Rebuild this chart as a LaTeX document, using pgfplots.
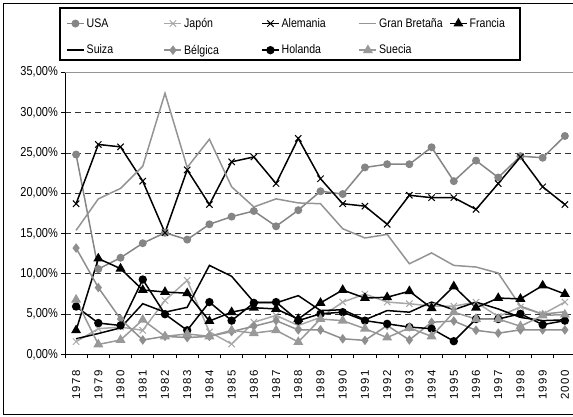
\documentclass[border=0pt]{standalone}
\usepackage{pgfplots}
\pgfplotsset{compat=1.18}
\usepackage{pgfplotstable}
\usepackage{fontspec}
\setmainfont{Liberation Sans}[FakeStretch=0.85]
\newfontfamily\yearfont{Liberation Sans}[LetterSpace=14]
\definecolor{cUSA}{gray}{0.52}
\definecolor{cJAP}{gray}{0.66}
\definecolor{cGB}{gray}{0.58}
\definecolor{cBEL}{gray}{0.56}
\definecolor{cSUE}{gray}{0.60}
\pgfplotstableread{
x   USA   JAP  ALE   GB    FRA   SUI   BEL   HOL   SUE
0   24.8  1.6  18.7  15.4  3.0   1.95  13.2  5.95  6.8
1   10.6  3.2  26.05 19.3  11.9  2.6   8.3   3.9   1.25
2   12.0  3.4  25.75 20.6  10.65 3.3   4.4   3.6   1.8
3   13.8  3.0  21.5  23.35 8.0   6.3   1.8   9.3   4.3
4   15.1  6.7  15.1  32.4  7.75  5.25  2.25  5.0   2.25
5   14.25 9.2  22.9  23.2  7.6   5.85  2.1   3.0   2.55
6   16.15 2.8  18.6  26.7  4.15  11.05 2.25  6.5   2.25
7   17.1  1.3  23.9  20.8  5.25  9.7   2.85  4.2   3.0
8   17.8  4.0  24.5  18.3  5.8   6.5   3.5   6.4   2.65
9   15.9  4.85 21.2  19.3  5.65  6.4   4.2   6.5   3.0
10  17.9  3.6  26.8  18.8  4.4   7.3   3.05  4.2   1.55
11  20.25 4.6  21.8  18.7  6.4   5.45  3.05  5.05  4.4
12  19.9  6.5  18.7  15.6  8.0   5.55  1.95  5.25  4.2
13  23.2  7.5  18.4  14.45 7.0   4.3   1.75  4.2   3.2
14  23.6  6.5  16.15 14.9  7.1   5.45  3.6   3.8   2.1
15  23.6  6.3  19.75 11.25 7.85  5.25  1.8   3.4   3.3
16  25.7  6.0  19.45 12.6  5.75  6.5   4.0   3.2   2.25
17  21.5  6.0  19.45 11.05 8.45  5.55  4.15  1.65  5.25
18  24.05 6.5  18.0  10.85 5.8   6.5   3.0   4.4   4.4
19  21.95 4.7  21.2  10.1  7.0   5.65  2.65  4.4   4.4
20  24.6  5.9  24.5  6.0   6.9   4.6   3.05  5.05  3.5
21  24.4  5.0  20.8  5.0   8.55  4.2   3.05  3.7   4.85
22  27.1  6.5  18.6  5.3   7.5   4.3   3.05  4.2   4.95
}\data
\newcommand\lt[1]{\makebox[75bp][l]{#1}}
\newcommand\ls[1]{\makebox[68bp][l]{#1}}
\begin{document}
\begin{tikzpicture}
\useasboundingbox (0,0) rectangle (573bp,417bp);
\draw[line width=0.8bp] (3bp,3bp) rectangle (590bp,414bp);
\begin{axis}[
  at={(65bp,62.5bp)}, anchor=south west,
  scale only axis, width=511bp, height=282.2bp,
  xmin=-0.5, xmax=22.5, ymin=0, ymax=35,
  axis x line*=bottom, axis y line*=left,
  axis line style={black, line width=0.8bp},
  tick align=outside, major tick length=4bp,
  tick style={black, line width=0.8bp},
  xtick={-0.5,0.5,...,22.5}, xticklabels={},
  extra x ticks={0,...,22},
  extra x tick labels={1978,1979,1980,1981,1982,1983,1984,1985,1986,1987,1988,1989,1990,1991,1992,1993,1994,1995,1996,1997,1998,1999,2000},
  extra x tick style={major tick length=0pt, grid=none,
     tick label style={rotate=90, anchor=east, font=\fontsize{11.5}{12}\selectfont\yearfont, inner sep=0pt, xshift=-15bp}},
  ytick={0,5,...,30},
  yticklabels={{0,00\%},{5,00\%},{10,00\%},{15,00\%},{20,00\%},{25,00\%},{30,00\%}},
  extra y ticks={35}, extra y tick labels={35{,}00\%},
  extra y tick style={major grid style={solid, cGB, line width=0.9bp}},
  ymajorgrids,
  major grid style={black!80, dash pattern=on 6bp off 4bp, line width=0.8bp},
  yticklabel style={font=\fontsize{13}{14}\selectfont, inner sep=0pt, xshift=-3bp},
  legend columns=5,
  legend style={at={(-0.0098,1.2172)}, anchor=north west, draw=none, fill=none,
     font=\fontsize{12.5}{14}\selectfont, row sep=12bp, inner xsep=6bp, inner ysep=5bp,
     cells={anchor=west}},
  every axis plot/.append style={line width=1.5bp},
]
\addplot[cUSA, mark=*, mark size=3.2bp, mark options={fill=cUSA, draw=cUSA}] table[x=x,y=USA]{\data};
\addlegendentry{\lt{USA}}
\addplot[cJAP, mark=x, mark size=4.5bp, mark options={draw=cJAP, line width=1bp}] table[x=x,y=JAP]{\data};
\addlegendentry{\lt{Japón}}
\addplot[black, mark=x, mark size=4.5bp, mark options={line width=1bp}] table[x=x,y=ALE]{\data};
\addlegendentry{\lt{Alemania}}
\addplot[cGB, no marks] table[x=x,y=GB]{\data};
\addlegendentry{\ls{Gran Bretaña}}
\addplot[black, mark=triangle*, mark size=4.3bp, mark options={fill=black}] table[x=x,y=FRA]{\data};
\addlegendentry{Francia}
\addplot[black, no marks] table[x=x,y=SUI]{\data};
\addlegendentry{\lt{Suiza}}
\addplot[cBEL, mark=diamond*, mark size=3.6bp, mark options={fill=cBEL, draw=cBEL}] table[x=x,y=BEL]{\data};
\addlegendentry{\lt{Bélgica}}
\addplot[black, mark=*, mark size=3.4bp, mark options={fill=black}] table[x=x,y=HOL]{\data};
\addlegendentry{\lt{Holanda}}
\addplot[cSUE, mark=triangle*, mark size=4.3bp, mark options={fill=cSUE, draw=cSUE}] table[x=x,y=SUE]{\data};
\addlegendentry{\ls{Suecia}}
\end{axis}
\draw[line width=1.3bp, black] (60bp,357bp) rectangle (520bp,409bp);
\end{tikzpicture}
\end{document}
